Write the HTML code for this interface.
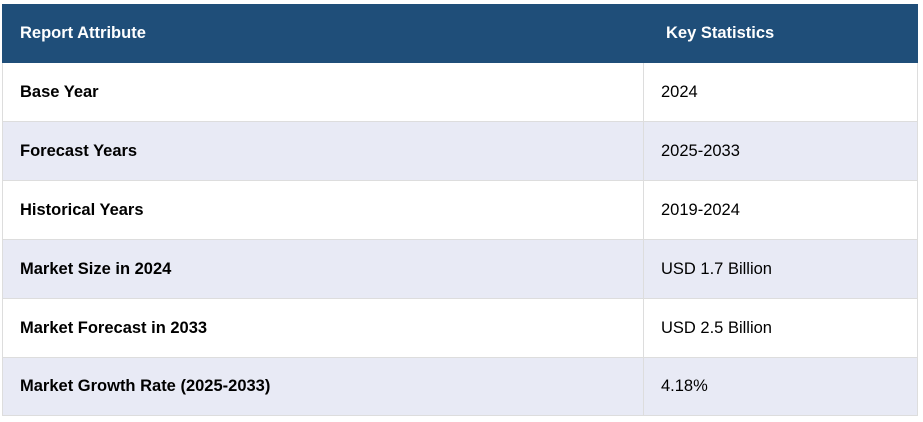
<!DOCTYPE html>
<html><head><style>
body{margin:0;background:#fff;width:923px;height:422px;overflow:hidden;font-family:"Liberation Sans",Arial,sans-serif;}
table{position:absolute;left:2px;top:4px;border-collapse:collapse;width:916px;}
td,th{border:1px solid #dddddd;padding:0;height:58px;font-size:16.5px;color:#000;text-align:left;}
tr:last-child td{height:57px;}
th{background:#1f4e79;color:#fff;font-weight:bold;border-color:#1f4e79;height:57px;}
td.a{font-weight:bold;padding-left:17px;}
th.a{padding-left:17px;}
th.b{padding-left:22px;border-left:1px solid #dddddd;}
td.b{padding-left:17px;}
tr.alt td{background:#e8eaf5;}
</style></head><body>
<table>
<tr><th class="a" style="width:623px">Report Attribute</th><th class="b">Key Statistics</th></tr>
<tr><td class="a">Base Year</td><td class="b">2024</td></tr>
<tr class="alt"><td class="a">Forecast Years</td><td class="b">2025-2033</td></tr>
<tr><td class="a">Historical Years</td><td class="b">2019-2024</td></tr>
<tr class="alt"><td class="a">Market Size in 2024</td><td class="b">USD 1.7 Billion</td></tr>
<tr><td class="a">Market Forecast in 2033</td><td class="b">USD 2.5 Billion</td></tr>
<tr class="alt"><td class="a">Market Growth Rate (2025-2033)</td><td class="b">4.18%</td></tr>
</table>
</body></html>
